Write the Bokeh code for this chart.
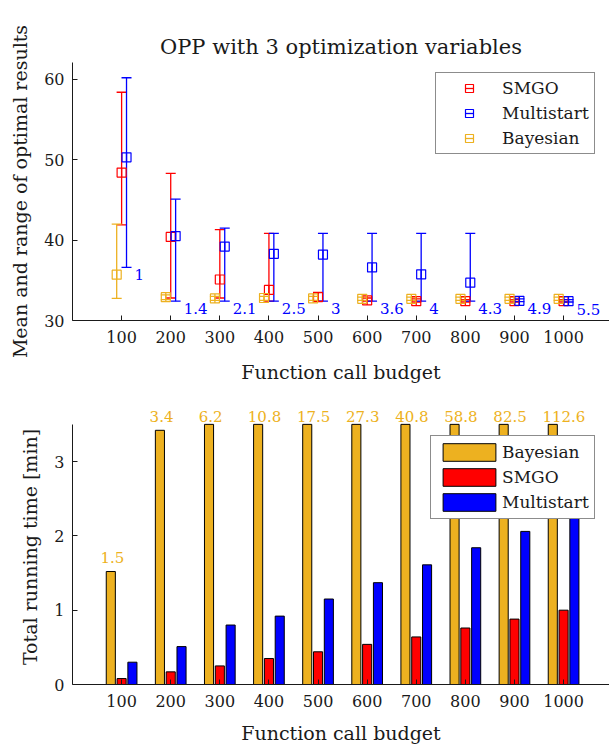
import numpy as np
from bokeh.plotting import figure
from bokeh.models import (ColumnDataSource, Whisker, TeeHead, FixedTicker, Legend,
                          LegendItem, Range1d)
from bokeh.layouts import column
from bokeh.embed import file_html
from bokeh.resources import INLINE
from bokeh.core.properties import value

# ---------------- data ----------------
budgets = [100, 200, 300, 400, 500, 600, 700, 800, 900, 1000]

smgo_mean = [48.4, 40.4, 35.1, 33.8, 32.9, 32.5, 32.4, 32.4, 32.4, 32.4]
smgo_min = [41.9, 32.8, 32.8, 32.4, 32.4, 32.4, 32.3, 32.3, 32.3, 32.3]
smgo_max = [58.4, 48.3, 41.3, 40.85, 33.5, 32.8, 32.7, 32.6, 32.6, 32.6]

multi_mean = [50.3, 40.5, 39.2, 38.3, 38.2, 36.6, 35.75, 34.7, 32.45, 32.4]
multi_min = [36.6, 32.4, 32.4, 32.4, 32.4, 32.4, 32.4, 32.4, 32.35, 32.3]
multi_max = [60.2, 45.1, 41.5, 40.85, 40.85, 40.85, 40.85, 40.85, 32.7, 32.6]

bayes_mean = [35.7, 32.9, 32.75, 32.8, 32.75, 32.7, 32.7, 32.7, 32.7, 32.7]
bayes_min = [32.75, 32.6, 32.5, 32.5, 32.5, 32.5, 32.5, 32.5, 32.5, 32.5]
bayes_max = [42.0, 33.2, 33.0, 33.0, 33.0, 32.9, 32.9, 32.9, 32.9, 32.9]

ratio_labels = [1, 1.4, 2.1, 2.5, 3, 3.6, 4, 4.3, 4.9, 5.5]

bayes_time = [1.52, 3.42, 6.2, 10.8, 17.5, 27.3, 40.8, 58.8, 82.5, 112.6]
smgo_time = [0.08, 0.17, 0.25, 0.35, 0.44, 0.54, 0.64, 0.76, 0.88, 1.0]
multi_time = [0.30, 0.51, 0.80, 0.92, 1.15, 1.37, 1.61, 1.84, 2.06, 2.30]

x_ticks = budgets
y_ticks_top = [30, 40, 50, 60]
y_ticks_bottom = [0, 1, 2, 3]
time_axis_max = 3.5

# ---------------- style ----------------
FONT = "DejaVu Serif"
C_SMGO = "#FF0000"
C_MULTI = "#0000FF"
C_BAYES = "#EDB120"
INK = "#1a1a1a"
X_END = 1093.5


def style_axes(p, xlabel, ylabel, yticks, xl_standoff):
    p.outline_line_color = None
    p.xgrid.visible = False
    p.ygrid.visible = False
    for ax in (p.xaxis[0], p.yaxis[0]):
        ax.axis_line_color = INK
        ax.axis_line_width = 1
        ax.major_tick_in = 5
        ax.major_tick_out = 0
        ax.major_tick_line_color = INK
        ax.minor_tick_line_color = None
        ax.major_label_text_font = FONT
        ax.major_label_text_font_size = "16px"
        ax.major_label_text_color = INK
        ax.axis_label_text_font = FONT
        ax.axis_label_text_font_size = "19px"
        ax.axis_label_text_font_style = "normal"
        ax.axis_label_text_color = INK
    p.xaxis[0].major_label_standoff = 10
    p.yaxis[0].major_label_standoff = 8
    p.xaxis[0].axis_label = xlabel
    p.yaxis[0].axis_label = ylabel
    p.xaxis[0].ticker = FixedTicker(ticks=x_ticks)
    p.yaxis[0].ticker = FixedTicker(ticks=yticks)
    p.xaxis[0].axis_label_standoff = xl_standoff
    p.yaxis[0].axis_label_standoff = 10


# ---------------- top chart ----------------
p1 = figure(width=609, height=385, x_range=Range1d(0, X_END), y_range=Range1d(30, 62.1),
            output_backend="svg", toolbar_location=None,
            min_border_left=72, min_border_right=0, min_border_top=62, min_border_bottom=63,
            title="OPP with 3 optimization variables")
p1.title.text_font = FONT
p1.title.text_font_size = "21px"
p1.title.text_font_style = "normal"
p1.title.text_color = INK
p1.title.align = "center"
p1.title.standoff = 8
style_axes(p1, "Function call budget", "Mean and range of optimal results", y_ticks_top, 15)

series = [("SMGO", smgo_mean, smgo_min, smgo_max, C_SMGO, 0),
          ("Multistart", multi_mean, multi_min, multi_max, C_MULTI, 10),
          ("Bayesian", bayes_mean, bayes_min, bayes_max, C_BAYES, -10)]
items = []
multi_src = None
for name, mean, lo, hi, col, off in series:
    src = ColumnDataSource(dict(x=np.array(budgets, dtype=float) + off,
                                mean=mean, lo=lo, hi=hi))
    if name == "Multistart":
        multi_src = src
    w = Whisker(source=src, base="x", upper="hi", lower="lo", dimension="height",
                line_color=col, line_width=1.3,
                upper_head=TeeHead(size=10, line_color=col, line_width=1.3),
                lower_head=TeeHead(size=10, line_color=col, line_width=1.3))
    p1.add_layout(w)
    d = p1.scatter("x", "mean", source=src, marker="dash", angle=np.pi / 2, size=9,
                   line_color=col, line_width=1.3)
    r = p1.scatter("x", "mean", source=src, marker="square", size=9,
                   line_color=col, fill_color=None, line_width=1.2)
    items.append(LegendItem(label=name, renderers=[d, r]))

multi_src.data["lbl"] = ["%g" % v for v in ratio_labels]
p1.text(x="x", y="lo", text="lbl", source=multi_src, x_offset=8, y_offset=7,
        text_align="left", text_baseline="middle", text_color=C_MULTI,
        text_font=value(FONT), text_font_size=value("15px"))

leg1 = Legend(items=items, location=(363, 166), margin=0, padding=5, spacing=5,
              glyph_width=56, glyph_height=20, label_height=20, label_standoff=5,
              label_text_font=FONT, label_text_font_size="17px", label_text_color=INK,
              border_line_color=INK, border_line_width=1, background_fill_color="white",
              background_fill_alpha=1)
p1.add_layout(leg1)

# ---------------- bottom chart ----------------
p2 = figure(width=609, height=361, x_range=Range1d(0, X_END), y_range=Range1d(0, 3.7),
            output_backend="svg", toolbar_location=None,
            min_border_left=72, min_border_right=0, min_border_top=24, min_border_bottom=60)
style_axes(p2, "Function call budget", "Total running time [min]", y_ticks_bottom, 12)
p2.yaxis[0].bounds = (0, time_axis_max)

b = np.array(budgets, dtype=float)
bt = np.array(bayes_time)
rb = p2.vbar(x=b - 22, top=np.minimum(bt, time_axis_max), width=18.5,
             fill_color=C_BAYES, line_color="black", line_width=1)
rs = p2.vbar(x=b, top=smgo_time, width=18.5,
             fill_color=C_SMGO, line_color="black", line_width=1)
rm = p2.vbar(x=b + 22, top=multi_time, width=18.5,
             fill_color=C_MULTI, line_color="black", line_width=1)

lab_src = ColumnDataSource(dict(x=b - 43, y=np.minimum(bt + 0.1, time_axis_max + 0.01),
                                txt=["%.1f" % v for v in bayes_time]))
p2.text(x="x", y="y", text="txt", source=lab_src, y_offset=-7,
        text_align="left", text_baseline="middle",
        text_color=C_BAYES, text_font=value(FONT), text_font_size=value("15px"))

leg2 = Legend(items=[LegendItem(label="Bayesian", renderers=[rb]),
                     LegendItem(label="SMGO", renderers=[rs]),
                     LegendItem(label="Multistart", renderers=[rm])],
              location=(358, 165), margin=0, padding=5, spacing=3,
              glyph_width=66, glyph_height=22, label_height=22, label_standoff=0,
              label_text_font=FONT, label_text_font_size="17px", label_text_color=INK,
              border_line_color=INK, border_line_width=1, background_fill_color="white",
              background_fill_alpha=1)
p2.add_layout(leg2)

layout = column(p1, p2, spacing=0)
open("out.html", "w").write(file_html(layout, INLINE))
